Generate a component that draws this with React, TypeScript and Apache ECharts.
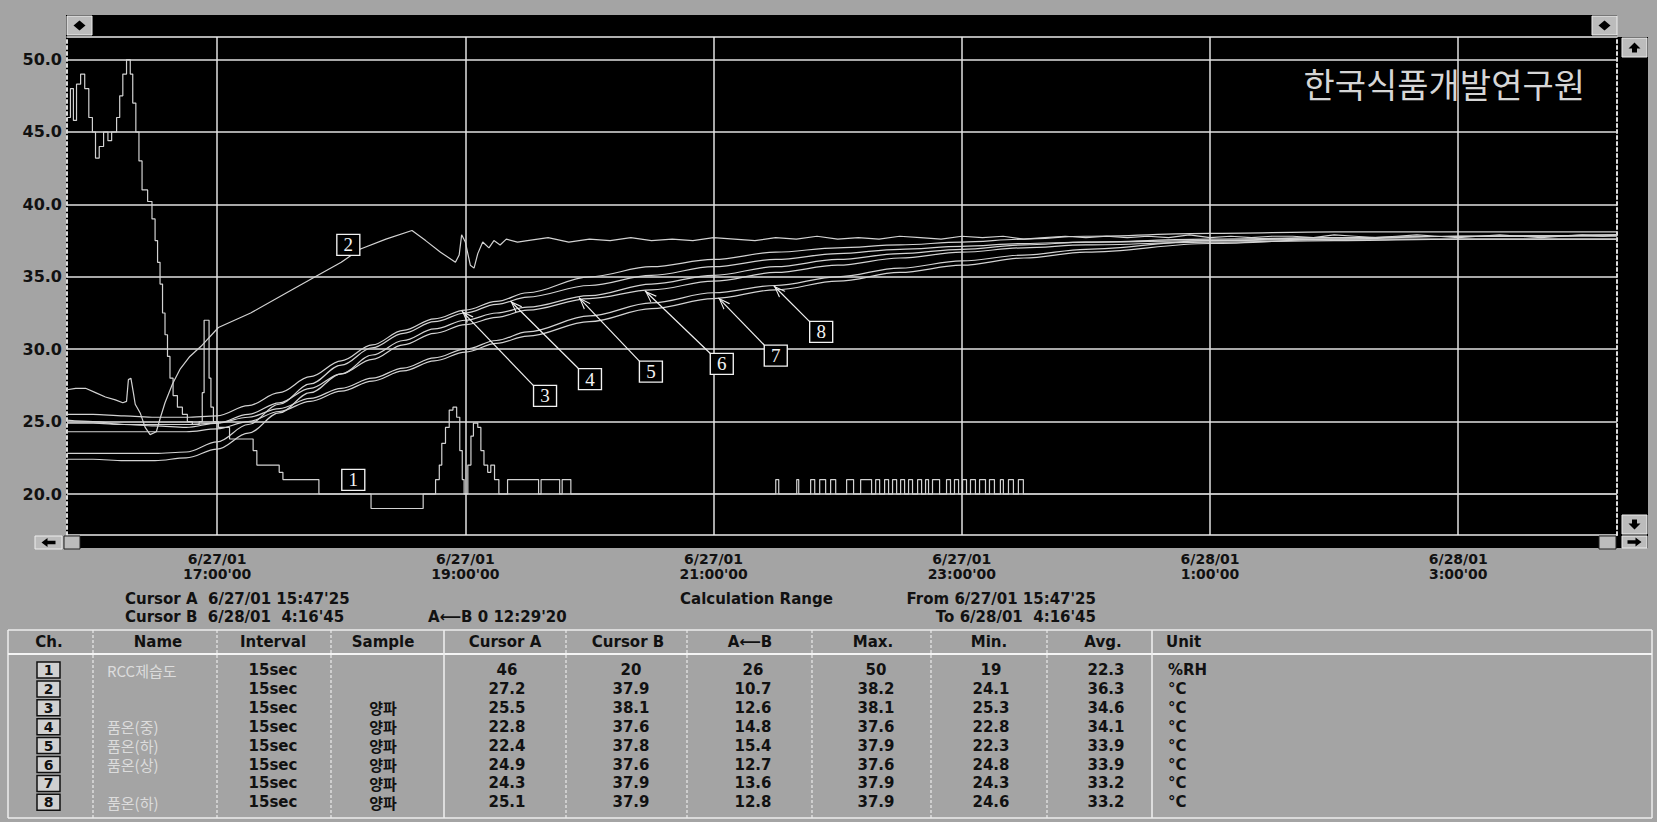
import { useEffect, useRef } from 'react';
import * as echarts from 'echarts';

const WIDTH = 1657;
const HEIGHT = 822;

// Time is counted in hours from 6/27/01 00:00 (values above 24 fall on 6/28/01).
const RANGE_START = 15 + 47 / 60 + 25 / 3600; // Cursor A 15:47'25
const RANGE_END = 28 + 16 / 60 + 45 / 3600; // Cursor B 4:16'45 (next day)
const Y_MIN = 17.17;
const Y_MAX = 51.56;

const timeTicks = [17, 19, 21, 23, 25, 27];
const valueTicks = [20, 25, 30, 35, 40, 45, 50];

// ch1 humidity (%RH): each point starts a new held level
const ch1Steps: [number, number][] = [
  [15.79, 46], [15.818, 48], [15.842, 45.8], [15.867, 48.3], [15.9, 49], [15.933, 48],
  [15.966, 46], [15.995, 45], [16.02, 43.2], [16.05, 44], [16.085, 45], [16.12, 44.4],
  [16.15, 45], [16.19, 46], [16.215, 47.5], [16.24, 49], [16.27, 50], [16.3, 49],
  [16.32, 47], [16.345, 45], [16.37, 43], [16.395, 41], [16.44, 40.2], [16.475, 39],
  [16.5, 37.5], [16.52, 36], [16.54, 34.5], [16.56, 32.5], [16.58, 31], [16.6, 29.5],
  [16.62, 28], [16.645, 26.8], [16.68, 26], [16.72, 25.5], [16.76, 25], [16.8, 24.8],
  [16.855, 25], [16.88, 27], [16.895, 32], [16.935, 28], [16.95, 26], [16.97, 25],
  [17.01, 24.6], [17.1, 23.8], [17.29, 23], [17.32, 22], [17.5, 21.5], [17.53, 21],
  [17.82, 20], [18.24, 19], [18.66, 20], [18.76, 21], [18.79, 22], [18.81, 23.5],
  [18.84, 24.6], [18.87, 25.8], [18.9, 26], [18.93, 25.3], [18.955, 23], [18.975, 21],
  [18.99, 20], [19.02, 22], [19.045, 24], [19.065, 24.9], [19.1, 24.6], [19.125, 23],
  [19.15, 22], [19.18, 21.5], [19.205, 22], [19.235, 21], [19.27, 20], [19.34, 21],
  [19.59, 20], [19.61, 21], [19.76, 20], [19.78, 21], [19.85, 20],
];
// ch1 switching between 21 and 20 %RH (first switch goes up to 21)
const ch1FlickerTimes = [
  21.501, 21.525, 21.67, 21.686, 21.782, 21.815, 21.855, 21.903, 21.943, 21.984,
  22.072, 22.128, 22.185, 22.273, 22.306, 22.338, 22.378, 22.41, 22.442, 22.475,
  22.507, 22.539, 22.571, 22.603, 22.644, 22.676, 22.708, 22.732, 22.764, 22.821,
  22.877, 22.909, 22.941, 22.974, 23.006, 23.038, 23.07, 23.11, 23.143, 23.191,
  23.223, 23.263, 23.311, 23.335, 23.376, 23.416, 23.456, 23.496,
];
const ch1FlickerLevels = [21, 20];
const ch1Final = 20;

// ch2 air temperature (°C)
const ch2Early: [number, number][] = [
  [15.79, 27.2], [15.86, 27.3], [15.94, 27.3], [16.02, 27.0], [16.1, 26.7], [16.18, 26.5],
  [16.24, 26.3], [16.27, 26.4], [16.285, 27.9], [16.305, 28.0], [16.325, 27.0], [16.34, 26.2],
  [16.38, 25.6], [16.42, 24.6], [16.46, 24.1], [16.51, 24.3], [16.54, 25.2], [16.58, 26.3],
  [16.64, 27.6], [16.7, 28.6], [16.78, 29.5], [16.87, 30.2], [17.01, 31.5], [17.27, 32.5],
  [17.56, 33.9], [17.79, 35.0], [18.0, 36.0], [18.15, 36.9], [18.36, 37.6], [18.57, 38.2],
  [18.68, 37.5], [18.8, 36.7], [18.92, 36.0], [18.95, 36.5], [18.97, 37.9], [19.0, 37.4],
  [19.04, 35.8], [19.07, 35.6], [19.1, 36.6], [19.14, 37.4], [19.19, 37.0], [19.23, 37.5],
  [19.28, 37.2], [19.33, 37.6], [19.42, 37.4],
];
// ch2 readings every 10 minutes from 19:30
const ch2LateStart = 19.5;
const ch2LateStepMinutes = 10;
const ch2Late = [
  37.5, 37.7, 37.4, 37.6, 37.5, 37.7, 37.5, 37.6, 37.5, 37.7, 37.6, 37.5, 37.7, 37.6,
  37.8, 37.6, 37.7, 37.6, 37.8, 37.7, 37.6, 37.8, 37.7, 37.8, 37.6, 37.7, 37.8, 37.7,
  37.8, 37.7, 37.8, 37.7, 37.9, 37.7, 37.8, 37.7, 37.8, 37.8, 37.7, 37.9, 37.8, 37.7,
  37.8, 37.9, 37.8, 37.7, 37.8, 37.9, 37.8, 37.7, 37.8, 37.9, 37.8,
];
const ch2Final = 37.9;

// product temperatures (°C) of ch3–ch8, read at these times
const probeTimes = [
  15.79, 16.0, 16.25, 16.5, 16.75, 17.0, 17.25, 17.5, 17.75, 18.0, 18.25, 18.5, 18.75, 19.0,
  19.25, 19.5, 20.0, 20.5, 21.0, 21.5, 22.0, 22.5, 23.0, 23.5, 24.0, 25.0, 26.0, 27.0, 28.28,
];
const ch3 = [25.5, 25.5, 25.4, 25.3, 25.3, 25.4, 26.1, 27.0, 28.1, 29.2, 30.3, 31.3, 32.1, 32.7, 33.3, 33.9, 35.0, 35.7, 36.2, 36.7, 37.0, 37.2, 37.4, 37.6, 37.8, 38.0, 38.1, 38.1, 38.1];
const ch4 = [22.8, 22.8, 22.8, 22.8, 22.9, 23.6, 24.8, 26.2, 27.6, 28.9, 30.1, 31.1, 31.9, 32.5, 33.1, 33.6, 34.4, 35.1, 35.7, 36.2, 36.6, 36.9, 37.1, 37.3, 37.4, 37.5, 37.6, 37.6, 37.6];
const ch5 = [22.4, 22.4, 22.3, 22.3, 22.5, 23.1, 24.2, 25.6, 27.0, 28.3, 29.6, 30.6, 31.4, 32.0, 32.5, 32.9, 33.7, 34.5, 35.1, 35.7, 36.2, 36.6, 36.9, 37.2, 37.4, 37.6, 37.7, 37.8, 37.8];
const ch6 = [24.9, 24.9, 24.8, 24.8, 24.8, 24.9, 25.5, 26.3, 27.3, 28.3, 29.3, 30.3, 31.1, 31.7, 32.2, 32.7, 33.5, 34.1, 34.7, 35.3, 35.8, 36.3, 36.7, 37.0, 37.2, 37.4, 37.5, 37.6, 37.6];
const ch7 = [24.3, 24.3, 24.3, 24.3, 24.3, 24.5, 25.0, 25.7, 26.4, 27.1, 27.8, 28.5, 29.2, 29.8, 30.4, 30.9, 31.9, 32.8, 33.5, 34.1, 34.7, 35.3, 35.8, 36.3, 36.7, 37.3, 37.6, 37.8, 37.9];
const ch8 = [25.1, 25.0, 24.8, 24.7, 24.6, 24.9, 25.3, 25.9, 26.6, 27.3, 28.0, 28.7, 29.4, 30.0, 30.6, 31.2, 32.3, 33.2, 33.9, 34.4, 35.0, 35.6, 36.1, 36.5, 36.9, 37.5, 37.7, 37.8, 37.9];

// channel table
const channelNos = ['1', '2', '3', '4', '5', '6', '7', '8'];
const channelNames = ['RCC제습도', '', '', '품온(중)', '품온(하)', '품온(상)', '', '품온(하)'];
const intervals = ['15sec', '15sec', '15sec', '15sec', '15sec', '15sec', '15sec', '15sec'];
const samples = ['', '', '양파', '양파', '양파', '양파', '양파', '양파'];
const cursorAValues = [46, 27.2, 25.5, 22.8, 22.4, 24.9, 24.3, 25.1];
const cursorBValues = [20, 37.9, 38.1, 37.6, 37.8, 37.6, 37.9, 37.9];
const diffValues = [26, 10.7, 12.6, 14.8, 15.4, 12.7, 13.6, 12.8];
const maxValues = [50, 38.2, 38.1, 37.6, 37.9, 37.6, 37.9, 37.9];
const minValues = [19, 24.1, 25.3, 22.8, 22.3, 24.8, 24.3, 24.6];
const avgValues = [22.3, 36.3, 34.6, 34.1, 33.9, 33.9, 33.2, 33.2];
const units = ['%RH', '°C', '°C', '°C', '°C', '°C', '°C', '°C'];

// channel tags in the plot: box centre, arrow tail and the time the arrow points at
const tags: { box: [number, number]; tail?: [number, number]; tipAt?: number }[] = [
  { box: [18.097, 20.97] },
  { box: [18.057, 37.2] },
  { box: [19.642, 26.77], tail: [19.549, 27.49], tipAt: 18.972 },
  { box: [20.004, 27.94], tail: [19.911, 28.67], tipAt: 19.363 },
  { box: [20.495, 28.46], tail: [20.402, 29.18], tipAt: 19.915 },
  { box: [21.066, 28.98], tail: [20.974, 29.7], tipAt: 20.447 },
  { box: [21.501, 29.56], tail: [21.408, 30.29], tipAt: 21.039 },
  { box: [21.867, 31.19], tail: [21.774, 31.91], tipAt: 21.485 },
];

const BOLD_FONT = '"DejaVu Sans", "Noto Sans CJK KR", sans-serif';
const KR_FONT = '"Noto Sans CJK KR", sans-serif';
const TRACE = '#d2d2d2';
const GRID_LINE = '#e0e0e0';
const BUTTON = '#bcbcbc';
const CHEVRON = 'path://M5,0 L10,13 L8.7,13 L5,3 L1.3,13 L0,13 Z';

function valueAt(points: [number, number][], t: number): number {
  for (let i = 1; i < points.length; i++) {
    const [x0, y0] = points[i - 1];
    const [x1, y1] = points[i];
    if (t >= x0 && t <= x1) return y0 + ((y1 - y0) * (t - x0)) / (x1 - x0);
  }
  return points[points.length - 1][1];
}

function timeLabel(v: number): string {
  const day = v >= 24 ? '6/28/01' : '6/27/01';
  const hour = Math.round(v) % 24;
  return `${day}\n${hour}:00'00`;
}

function rectEl(x: number, y: number, w: number, h: number, fill: string, z = 1, stroke?: string, lineWidth = 1) {
  return { type: 'rect', z, silent: true, shape: { x, y, width: w, height: h }, style: { fill, stroke, lineWidth } };
}
function lineEl(x1: number, y1: number, x2: number, y2: number, stroke: string, lineWidth = 1, dash?: number[]) {
  return { type: 'line', z: 2, silent: true, shape: { x1, y1, x2, y2 }, style: { stroke, lineWidth, lineDash: dash } };
}
function polyEl(points: number[][], fill = '#000', z = 6) {
  return { type: 'polygon', z, silent: true, shape: { points }, style: { fill } };
}
function textEl(
  x: number,
  y: number,
  text: string,
  o: { size?: number; weight?: string; color?: string; align?: string; family?: string; z?: number } = {}
) {
  const align = o.align ?? 'left';
  return {
    type: 'text',
    z: o.z ?? 5,
    silent: true,
    x,
    y,
    style: {
      text,
      fill: o.color ?? '#111',
      fontSize: o.size ?? 15,
      fontWeight: o.weight ?? 'bold',
      fontFamily: o.family ?? BOLD_FONT,
      align,
      textAlign: align,
      verticalAlign: 'middle',
      textVerticalAlign: 'middle',
    },
  };
}

const diamond = (cx: number, cy: number) => polyEl([[cx, cy - 5], [cx + 6, cy], [cx, cy + 5], [cx - 6, cy]]);
const upArrow = (cx: number, cy: number) =>
  polyEl([[cx, cy - 5], [cx + 6, cy + 1], [cx + 2.5, cy + 1], [cx + 2.5, cy + 5], [cx - 2.5, cy + 5], [cx - 2.5, cy + 1], [cx - 6, cy + 1]]);
const downArrow = (cx: number, cy: number) =>
  polyEl([[cx, cy + 5], [cx + 6, cy - 1], [cx + 2.5, cy - 1], [cx + 2.5, cy - 5], [cx - 2.5, cy - 5], [cx - 2.5, cy - 1], [cx - 6, cy - 1]]);
const leftArrow = (cx: number, cy: number) =>
  polyEl([[cx - 7, cy], [cx - 1, cy - 4.5], [cx - 1, cy - 1.8], [cx + 7, cy - 1.8], [cx + 7, cy + 1.8], [cx - 1, cy + 1.8], [cx - 1, cy + 4.5]]);
const rightArrow = (cx: number, cy: number) =>
  polyEl([[cx + 7, cy], [cx + 1, cy - 4.5], [cx + 1, cy - 1.8], [cx - 7, cy - 1.8], [cx - 7, cy + 1.8], [cx + 1, cy + 1.8], [cx + 1, cy + 4.5]]);

function frameGraphics() {
  const els: any[] = [];
  // black instrument panel with scroll bars
  els.push(rectEl(66, 15, 1551, 22, '#000', -1));
  els.push(rectEl(66, 37, 1582, 511, '#000', -1));
  // buttons
  els.push(rectEl(67, 16, 25, 19, BUTTON, 4, '#eeeeee', 1), diamond(79.5, 25.5));
  els.push(rectEl(1592, 16, 25, 19, BUTTON, 4, '#eeeeee', 1), diamond(1604.5, 25.5));
  els.push(rectEl(1622, 38, 25, 19, BUTTON, 4, '#eeeeee', 1), upArrow(1634.5, 47.5));
  els.push(rectEl(1622, 515, 25, 19, BUTTON, 4, '#eeeeee', 1), downArrow(1634.5, 524.5));
  els.push(rectEl(1622, 536, 25, 12, BUTTON, 4, '#eeeeee', 1), rightArrow(1634.5, 542));
  els.push(rectEl(35, 536, 27, 13, BUTTON, 4, '#eeeeee', 1), leftArrow(48.5, 542.5));
  els.push(rectEl(64, 536, 16, 13, BUTTON, 4, '#222', 1), lineEl(66, 542.5, 78, 542.5, '#222', 1));
  els.push(rectEl(1599, 536, 17, 13, BUTTON, 4, '#222', 1), lineEl(1601, 542.5, 1614, 542.5, '#222', 1));
  // plot title
  els.push(textEl(1585, 83, '한국식품개발연구원', { size: 34, weight: 'normal', color: '#d6d6d6', align: 'right', family: KR_FONT }));
  return els;
}

function infoGraphics() {
  const els: any[] = [];
  els.push(textEl(125, 599, "Cursor A  6/27/01 15:47'25"));
  els.push(textEl(125, 617, "Cursor B  6/28/01  4:16'45"));
  els.push(textEl(428, 617, "A⟵B 0 12:29'20"));
  els.push(textEl(680, 599, 'Calculation Range'));
  els.push(textEl(1096, 599, "From 6/27/01 15:47'25", { align: 'right' }));
  els.push(textEl(1096, 617, "To 6/28/01  4:16'45", { align: 'right' }));
  return els;
}

function tableGraphics() {
  const els: any[] = [];
  const top = 630;
  const bottom = 818;
  const headerLine = 654;
  const light = '#ececec';
  els.push(lineEl(8, top, 1652, top, light, 1.5));
  els.push(lineEl(8, bottom, 1652, bottom, light, 1.5));
  els.push(lineEl(8, top, 8, bottom, light, 1.5));
  els.push(lineEl(1652, top, 1652, bottom, light, 1.5));
  els.push(lineEl(8, headerLine, 1652, headerLine, '#f4f4f4', 2));
  const seps = [93, 217, 331, 444, 566, 687, 812, 931, 1047, 1152];
  seps.forEach((x, i) => {
    const solid = i === 3 || i === 9;
    els.push(lineEl(x, top, x, bottom, light, solid ? 1.6 : 1.2, solid ? undefined : [3, 2]));
  });

  const headY = 642;
  const heads: [string, number][] = [
    ['Ch.', 49], ['Name', 158], ['Interval', 273], ['Sample', 383], ['Cursor A', 505],
    ['Cursor B', 628], ['A⟵B', 750], ['Max.', 873], ['Min.', 989], ['Avg.', 1103],
  ];
  heads.forEach(([t, x]) => els.push(textEl(x, headY, t, { align: 'center' })));
  els.push(textEl(1166, headY, 'Unit'));

  const fmt = (v: number) => String(v);
  channelNos.forEach((no, i) => {
    const y = 670 + i * 18.9;
    els.push(rectEl(37, y - 8, 23, 16, '#d0d0d0', 3, '#111', 1.5));
    els.push(textEl(48.5, y, no, { align: 'center', size: 14 }));
    if (channelNames[i]) {
      els.push(textEl(107, y, channelNames[i], { weight: 'normal', color: '#dcdcdc', family: KR_FONT, size: 15 }));
    }
    els.push(textEl(273, y, intervals[i], { align: 'center' }));
    if (samples[i]) els.push(textEl(383, y, samples[i], { align: 'center', family: KR_FONT }));
    els.push(textEl(507, y, fmt(cursorAValues[i]), { align: 'center' }));
    els.push(textEl(631, y, fmt(cursorBValues[i]), { align: 'center' }));
    els.push(textEl(753, y, fmt(diffValues[i]), { align: 'center' }));
    els.push(textEl(876, y, fmt(maxValues[i]), { align: 'center' }));
    els.push(textEl(991, y, fmt(minValues[i]), { align: 'center' }));
    els.push(textEl(1106, y, fmt(avgValues[i]), { align: 'center' }));
    els.push(textEl(1168, y, units[i]));
  });
  return els;
}

function buildOption() {
  const ch1Data: [number, number][] = [
    ...ch1Steps,
    ...ch1FlickerTimes.map((t, i) => [t, ch1FlickerLevels[i % 2]] as [number, number]),
    [RANGE_END, ch1Final],
  ];
  const ch2Data: [number, number][] = [
    ...ch2Early,
    ...ch2Late.map((v, i) => [ch2LateStart + (i * ch2LateStepMinutes) / 60, v] as [number, number]),
    [RANGE_END, ch2Final],
  ];
  const probes = [ch3, ch4, ch5, ch6, ch7, ch8].map(
    (vals) => probeTimes.map((t, i) => [t, vals[i]] as [number, number])
  );
  const allData = [ch1Data, ch2Data, ...probes];

  const series = allData.map((data, idx) => {
    const tag = tags[idx];
    const s: any = {
      type: 'line',
      name: channelNos[idx],
      data,
      showSymbol: false,
      symbol: 'none',
      silent: true,
      z: 3,
      lineStyle: { color: TRACE, width: 1.2 },
      markPoint: {
        silent: true,
        symbol: 'rect',
        symbolSize: [23, 21],
        itemStyle: { color: '#000', borderColor: '#f2f2f2', borderWidth: 1.3 },
        label: {
          show: true,
          position: 'inside',
          formatter: channelNos[idx],
          color: '#f4f4f4',
          fontFamily: '"Liberation Serif", serif',
          fontSize: 19,
        },
        data: [{ coord: tag.box }],
      },
    };
    if (idx === 0) s.step = 'end';
    if (idx >= 2) {
      s.smooth = 0.35;
      s.smoothMonotone = 'x';
    }
    if (tag.tail && tag.tipAt != null) {
      const tip: [number, number] = [tag.tipAt, valueAt(data, tag.tipAt)];
      s.markLine = {
        silent: true,
        symbol: ['none', CHEVRON],
        symbolSize: [9, 12],
        symbolOffset: [0, [0, 6]],
        lineStyle: { color: '#f0f0f0', width: 1.2, type: 'solid' },
        label: { show: false },
        emphasis: { disabled: true },
        data: [[{ coord: tag.tail }, { coord: tip }]],
      };
    }
    return s;
  });

  const edgeLine = { show: true, onZero: false, lineStyle: { color: '#eaeaea', width: 1.5 } };
  const dashedEdge = { show: true, onZero: false, lineStyle: { color: '#dcdcdc', width: 2, type: [3, 3] } };

  return {
    animation: false,
    backgroundColor: '#a4a4a4',
    grid: { left: 67, right: 40, top: 37, bottom: 287, containLabel: false, outerBoundsMode: 'none' },
    xAxis: [
      {
        type: 'value',
        position: 'bottom',
        min: RANGE_START,
        max: RANGE_END,
        axisLine: edgeLine,
        axisTick: { show: false, customValues: timeTicks },
        axisLabel: {
          customValues: timeTicks,
          formatter: timeLabel,
          color: '#111',
          fontFamily: BOLD_FONT,
          fontWeight: 'bold',
          fontSize: 14,
          lineHeight: 15,
          margin: 16,
        },
        splitLine: { show: true, lineStyle: { color: GRID_LINE, width: 1.5 } },
      },
      {
        type: 'value',
        position: 'top',
        min: RANGE_START,
        max: RANGE_END,
        axisLine: edgeLine,
        axisTick: { show: false },
        axisLabel: { show: false },
        splitLine: { show: false },
      },
    ],
    yAxis: [
      {
        type: 'value',
        position: 'left',
        min: Y_MIN,
        max: Y_MAX,
        axisLine: dashedEdge,
        axisTick: { show: false, customValues: valueTicks },
        axisLabel: {
          customValues: valueTicks,
          formatter: (v: number) => v.toFixed(1),
          color: '#111',
          fontFamily: BOLD_FONT,
          fontWeight: 'bold',
          fontSize: 16,
          margin: 5,
        },
        splitLine: { show: true, lineStyle: { color: GRID_LINE, width: 1.5 } },
      },
      {
        type: 'value',
        position: 'right',
        min: Y_MIN,
        max: Y_MAX,
        axisLine: dashedEdge,
        axisTick: { show: false },
        axisLabel: { show: false },
        splitLine: { show: false },
      },
    ],
    series,
    graphic: { elements: [...frameGraphics(), ...infoGraphics(), ...tableGraphics()] },
  };
}

export default function App() {
  const ref = useRef<HTMLDivElement>(null);
  useEffect(() => {
    if (!ref.current) return;
    const chart = echarts.init(ref.current, undefined, { renderer: 'svg', width: WIDTH, height: HEIGHT });
    chart.setOption(buildOption() as any);
    return () => chart.dispose();
  }, []);
  return <div ref={ref} style={{ position: 'absolute', left: 0, top: 0, width: WIDTH, height: HEIGHT }} />;
}
